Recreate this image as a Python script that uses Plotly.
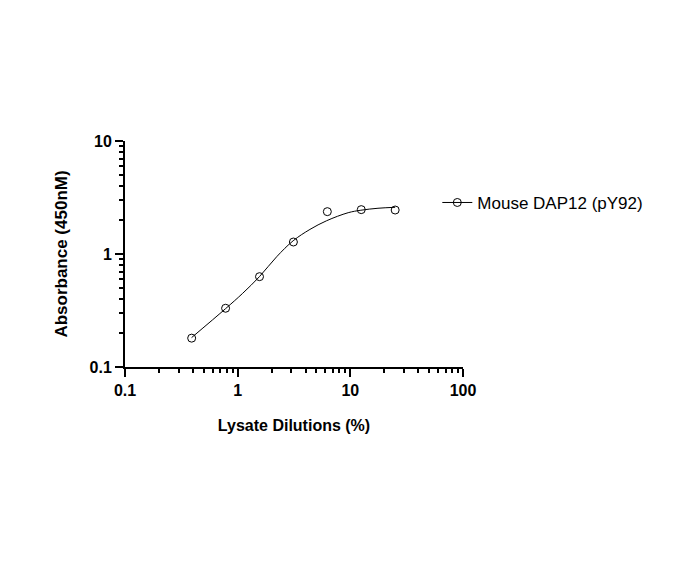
"""Lysate dilution curve for Mouse DAP12 (pY92) with Plotly."""
import plotly.graph_objects as go

# measured points
dilutions = [0.390625, 0.78125, 1.5625, 3.125, 6.25, 12.5, 25]
absorbance = [0.18, 0.331, 0.63, 1.277, 2.37, 2.47, 2.45]

# fitted curve
fit_x = [0.39, 0.78, 1.1, 1.56, 2.22, 3.11, 4.38, 6.16, 9.57, 12.4, 17.6, 25]
fit_y = [0.182, 0.328, 0.446, 0.63, 0.946, 1.31, 1.65, 1.97, 2.32, 2.44, 2.54, 2.59]

series_name = "Mouse DAP12 (pY92)"
x_ticks = [0.1, 1, 10, 100]
x_tick_text = ["0.1", "1", "10", "100"]
y_ticks = [0.1, 1, 10]
y_tick_text = ["0.1", "1", "10"]

FONT = "Liberation Sans, Arial, sans-serif"

fig = go.Figure()
fig.add_trace(go.Scatter(
    x=fit_x, y=fit_y, mode="lines",
    line=dict(color="black", width=1, shape="spline"),
    showlegend=False, hoverinfo="skip",
))
fig.add_trace(go.Scatter(
    x=dilutions, y=absorbance, mode="markers",
    marker=dict(symbol="circle-open", size=8, color="black", line=dict(width=1)),
    showlegend=False,
))
# legend entry only (line + open circle)
fig.add_trace(go.Scatter(
    x=[None], y=[None], mode="lines+markers", name=series_name,
    line=dict(color="black", width=1),
    marker=dict(symbol="circle-open", size=8, color="black", line=dict(width=1)),
))

axis_common = dict(
    type="log", showline=True, linecolor="black", linewidth=2,
    ticks="outside", ticklen=8, tickwidth=2, tickcolor="black",
    showgrid=False, zeroline=False,
    tickfont=dict(family=FONT, size=16, color="black", weight="bold"),
    minor=dict(ticks="outside", ticklen=4, tickwidth=1.5, tickcolor="black",
               dtick="D1", showgrid=False),
)

fig.update_xaxes(
    range=[-1, 2], tickvals=x_ticks, ticktext=x_tick_text,
    title=dict(text="Lysate Dilutions (%)", standoff=22,
               font=dict(family=FONT, size=16, color="black", weight="bold")),
    **axis_common,
)
fig.update_yaxes(
    range=[-1, 1], tickvals=y_ticks, ticktext=y_tick_text,
    title=dict(text="Absorbance (450nM)", standoff=18,
               font=dict(family=FONT, size=17, color="black", weight="bold")),
    **axis_common,
)

# page body adds 8px, so margins are shifted by that
fig.update_layout(
    width=696, height=564,
    margin=dict(l=117, r=241, t=133, b=205),
    plot_bgcolor="white", paper_bgcolor="white",
    font=dict(family=FONT, color="black"),
    legend=dict(x=0.924, y=0.726, xanchor="left", yanchor="middle",
                bgcolor="rgba(0,0,0,0)",
                font=dict(family=FONT, size=17, color="black")),
)

fig.write_html("out.html")
